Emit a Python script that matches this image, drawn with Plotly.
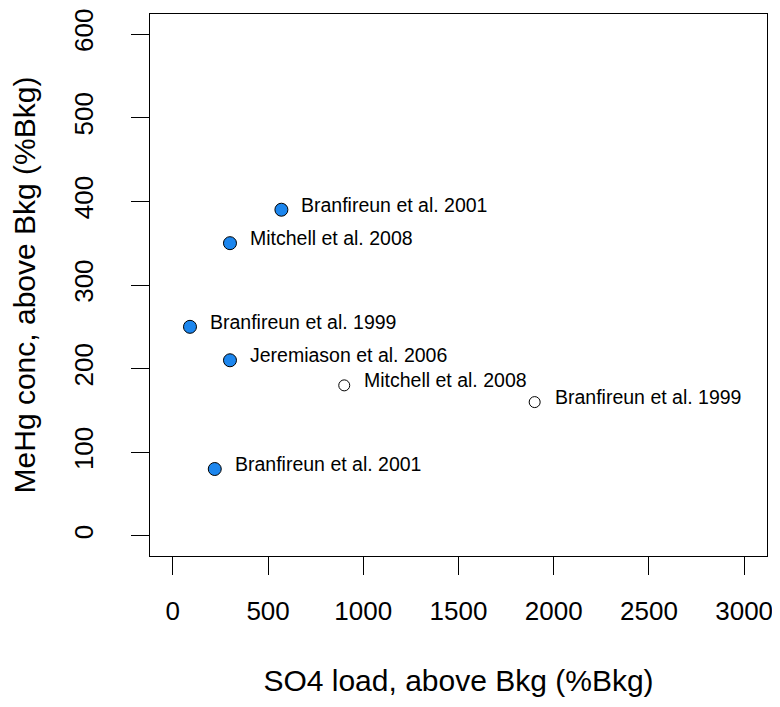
import plotly.graph_objects as go

# Data
blue_x = [570, 300, 90, 300, 220]
blue_y = [390, 350, 250, 210, 80]
blue_labels = ["Branfireun et al. 2001", "Mitchell et al. 2008", "Branfireun et al. 1999",
               "Jeremiason et al. 2006", "Branfireun et al. 2001"]

open_x = [900, 1900]
open_y = [180, 160]
open_labels = ["Mitchell et al. 2008", "Branfireun et al. 1999"]

x_ticks = [0, 500, 1000, 1500, 2000, 2500, 3000]
y_ticks = [0, 100, 200, 300, 400, 500, 600]

FONT = "Liberation Sans, Arial, sans-serif"

fig = go.Figure()
fig.add_trace(go.Scatter(
    x=blue_x, y=blue_y, mode="markers",
    marker=dict(size=13, color="#1C86EE", line=dict(color="black", width=1)),
    showlegend=False, hoverinfo="skip", cliponaxis=False))
fig.add_trace(go.Scatter(
    x=open_x, y=open_y, mode="markers",
    marker=dict(size=11, color="white", line=dict(color="black", width=1)),
    showlegend=False, hoverinfo="skip", cliponaxis=False))

for xs, ys, labs in [(blue_x, blue_y, blue_labels), (open_x, open_y, open_labels)]:
    for xv, yv, t in zip(xs, ys, labs):
        fig.add_annotation(x=xv, y=yv, text=t, showarrow=False, xanchor="left",
                           yanchor="middle", xshift=18, yshift=5,
                           font=dict(family=FONT, size=19.5, color="black"))

fig.update_layout(
    width=780, height=707,
    margin=dict(l=142, r=21, t=6, b=159, autoexpand=False),
    paper_bgcolor="white", plot_bgcolor="white",
    font=dict(family=FONT, color="black"),
)
fig.update_xaxes(
    range=[-120, 3120], tickvals=x_ticks, ticktext=[str(v) for v in x_ticks],
    showgrid=False, zeroline=False, showline=True, mirror=True, automargin=False,
    linecolor="black", linewidth=1, ticks="outside", ticklen=18, tickcolor="black",
    tickfont=dict(size=26), ticklabelstandoff=14,
    title=dict(text="SO4 load, above Bkg (%Bkg)", font=dict(size=30), standoff=44),
)
fig.update_yaxes(
    range=[-24, 624], tickvals=y_ticks, ticktext=[str(v) for v in y_ticks],
    showgrid=False, zeroline=False, showline=True, mirror=True, automargin=False,
    linecolor="black", linewidth=1, ticks="outside", ticklen=18, tickcolor="black",
    tickfont=dict(size=26), tickangle=-90, ticklabelstandoff=28,
    title=dict(text="MeHg conc, above Bkg (%Bkg)", font=dict(size=30), standoff=24),
)

fig.write_html("out.html")
